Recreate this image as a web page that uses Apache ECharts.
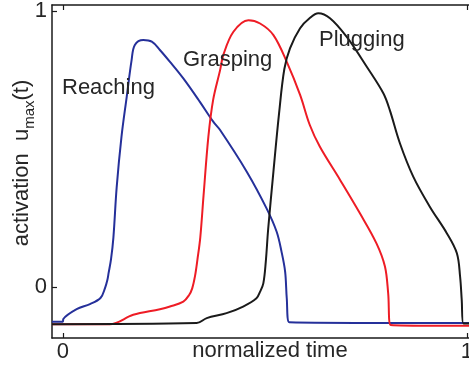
<!DOCTYPE html>
<html>
<head>
<meta charset="utf-8">
<script src="https://cdn.jsdelivr.net/npm/echarts@6/dist/echarts.min.js"></script>
<style>
  html, body { margin: 0; padding: 0; background: #fff; }
  #chart { width: 469px; height: 365px; }
</style>
</head>
<body>
<div id="chart"></div>
<script>
// Normalized time samples and activation levels for each movement phase
const reachT = [-0.027, 0, 0.001, 0.034, 0.067, 0.093, 0.104, 0.110, 0.113, 0.119, 0.125, 0.133, 0.145, 0.158, 0.170, 0.178, 0.199, 0.220, 0.240, 0.265, 0.298, 0.339, 0.372, 0.389, 0.455, 0.504, 0.529, 0.541, 0.550, 0.554, 0.560, 1.005];
const reachU = [-0.126, -0.126, -0.116, -0.080, -0.062, -0.040, -0.005, 0.025, 0.05, 0.10, 0.18, 0.36, 0.545, 0.69, 0.822, 0.877, 0.895, 0.889, 0.859, 0.816, 0.756, 0.671, 0.599, 0.569, 0.418, 0.285, 0.200, 0.128, 0.055, -0.041, -0.128, -0.131];

const graspT = [-0.027, 0.116, 0.174, 0.240, 0.265, 0.298, 0.312, 0.320, 0.327, 0.333, 0.340, 0.348, 0.360, 0.372, 0.389, 0.397, 0.422, 0.459, 0.488, 0.521, 0.554, 0.587, 0.611, 0.636, 0.686, 0.735, 0.776, 0.797, 0.805, 0.811, 1.005];
const graspU = [-0.135, -0.135, -0.101, -0.081, -0.071, -0.053, -0.030, -0.005, 0.04, 0.10, 0.18, 0.33, 0.545, 0.68, 0.786, 0.841, 0.925, 0.967, 0.955, 0.913, 0.816, 0.696, 0.587, 0.508, 0.388, 0.267, 0.158, 0.074, -0.023, -0.138, -0.141];

const plugT = [-0.027, 0.331, 0.356, 0.405, 0.446, 0.479, 0.488, 0.496, 0.502, 0.508, 0.521, 0.535, 0.548, 0.562, 0.587, 0.611, 0.632, 0.661, 0.702, 0.752, 0.793, 0.809, 0.834, 0.867, 0.908, 0.950, 0.975, 0.983, 0.987, 0.991, 1.005];
const plugU = [-0.135, -0.131, -0.113, -0.095, -0.071, -0.041, -0.017, 0.013, 0.09, 0.21, 0.418, 0.63, 0.79, 0.865, 0.938, 0.975, 0.992, 0.974, 0.907, 0.798, 0.702, 0.641, 0.521, 0.400, 0.291, 0.195, 0.122, 0.037, -0.047, -0.132, -0.132];

const tickValues = [0, 1];
const phaseNames = ['Reaching', 'Grasping', 'Plugging'];

const zip = (t, u) => t.map((v, i) => [v, u[i]]);

const FONT = '"Liberation Sans", Arial, Helvetica, sans-serif';
const INK = '#262626';

const chart = echarts.init(document.getElementById('chart'), null, { renderer: 'canvas' });

const axisLine = { show: true, onZero: false, lineStyle: { color: '#1a1a1a', width: 1.5 } };
const axisTick = { show: true, inside: true, length: 5, customValues: tickValues, lineStyle: { color: '#1a1a1a', width: 1.2 } };

function lineSeries(name, t, u, color) {
  return {
    name: name,
    type: 'line',
    data: zip(t, u),
    showSymbol: false,
    smooth: 0.35,
    lineStyle: { color: color, width: 2 },
    itemStyle: { color: color },
    animation: false,
    z: 3
  };
}

chart.setOption({
  animation: false,
  grid: { left: 52, top: 5, right: 0, bottom: 27, containLabel: false, outerBoundsMode: 'none' },
  xAxis: [
    {
      type: 'value', min: -0.027, max: 1.005,
      axisLine: axisLine, axisTick: axisTick,
      splitLine: { show: false },
      axisLabel: { customValues: tickValues, margin: 3, color: INK, fontSize: 22, fontFamily: FONT, showMaxLabel: true }
    },
    {
      type: 'value', position: 'top', min: -0.027, max: 1.005,
      axisLine: axisLine, axisTick: axisTick,
      splitLine: { show: false }, axisLabel: { show: false }
    }
  ],
  yAxis: {
    type: 'value', min: -0.185, max: 1.022,
    axisLine: axisLine, axisTick: axisTick,
    splitLine: { show: false },
    axisLabel: { customValues: tickValues, margin: 5, color: INK, fontSize: 22, fontFamily: FONT }
  },
  series: [
    lineSeries(phaseNames[0], reachT, reachU, '#25309a'),
    lineSeries(phaseNames[1], graspT, graspU, '#ee1c25'),
    lineSeries(phaseNames[2], plugT, plugU, '#1a1a1a')
  ],
  graphic: [
    { type: 'text', x: 62, y: 99, z: 10, style: { text: phaseNames[0], fill: INK, font: '22px ' + FONT, verticalAlign: 'bottom' } },
    { type: 'text', x: 183, y: 71, z: 10, style: { text: phaseNames[1], fill: INK, font: '22px ' + FONT, verticalAlign: 'bottom' } },
    { type: 'text', x: 319, y: 51, z: 10, style: { text: phaseNames[2], fill: INK, font: '22px ' + FONT, verticalAlign: 'bottom' } },
    { type: 'text', x: 270, y: 351, z: 10, style: { text: 'normalized time', fill: INK, font: '22px ' + FONT, align: 'center', verticalAlign: 'middle' } },
    {
      type: 'text', x: 22, y: 163, rotation: Math.PI / 2, z: 10,
      style: {
        text: '{m|activation  u}{s|max}{m|(t)}',
        align: 'center', verticalAlign: 'middle',
        rich: {
          m: { fontSize: 22, fontFamily: FONT, fill: INK, lineHeight: 30, verticalAlign: 'middle' },
          s: { fontSize: 15, fontFamily: FONT, fill: INK, lineHeight: 15, verticalAlign: 'bottom' }
        }
      }
    }
  ]
});
</script>
</body>
</html>
